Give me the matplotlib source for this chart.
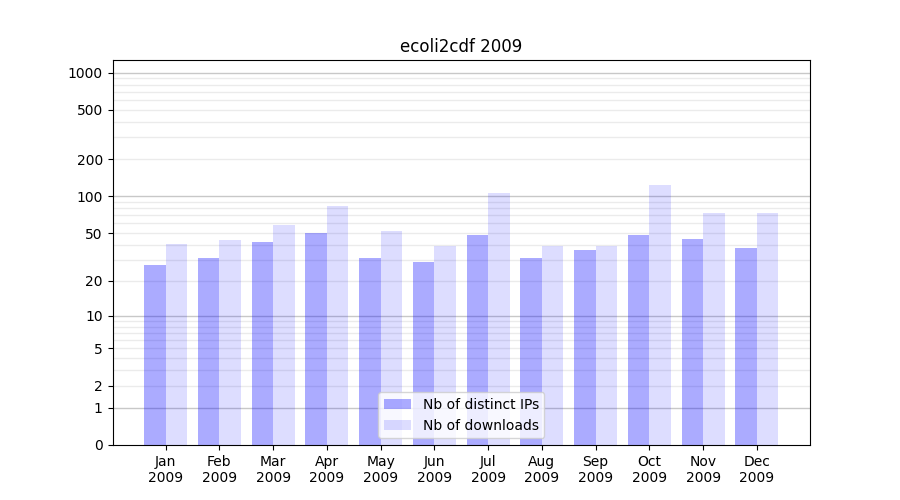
import numpy as np
import matplotlib
matplotlib.use("Agg")
import matplotlib.pyplot as plt

months = ["Jan", "Feb", "Mar", "Apr", "May", "Jun", "Jul", "Aug", "Sep", "Oct", "Nov", "Dec"]
year = "2009"
distinct_ips = [27, 31, 42, 50, 31, 29, 48, 31, 36, 48, 45, 38]
downloads = [41, 44, 58, 84, 52, 39, 107, 39, 39, 124, 73, 73]
ytick_values = [0, 1, 2, 5, 10, 20, 50, 100, 200, 500, 1000]
major_grid = [1, 10, 100, 1000]
minor_grid = [m * d for d in (1, 10, 100) for m in range(2, 10)]

fig, ax = plt.subplots(figsize=(9, 5), dpi=100)
ax.set_yscale("function", functions=(lambda v: np.log10(1 + np.clip(v, 0, None)),
                                     lambda t: 10 ** t - 1))

for g in minor_grid:
    ax.axhline(g, color="#ebebeb", lw=1, zorder=0)
for g in major_grid:
    ax.axhline(g, color="#c8c8c8", lw=1, zorder=0)

x = np.arange(len(months))
w = 0.4
ax.bar(x - w / 2, distinct_ips, width=w, color="blue", alpha=0.33, label="Nb of distinct IPs", zorder=1)
ax.bar(x + w / 2, downloads, width=w, color="blue", alpha=0.135, label="Nb of downloads", zorder=1)

ax.set_xticks(x)
ax.set_xticklabels([f"{m}\n{year}" for m in months])
ax.set_yticks(ytick_values)
ax.set_yticklabels([str(v) for v in ytick_values])
ax.set_ylim(0, 1265)
ax.minorticks_off()
ax.set_title("ecoli2cdf 2009")
ax.legend(loc="lower center")

fig.savefig("out.png")
